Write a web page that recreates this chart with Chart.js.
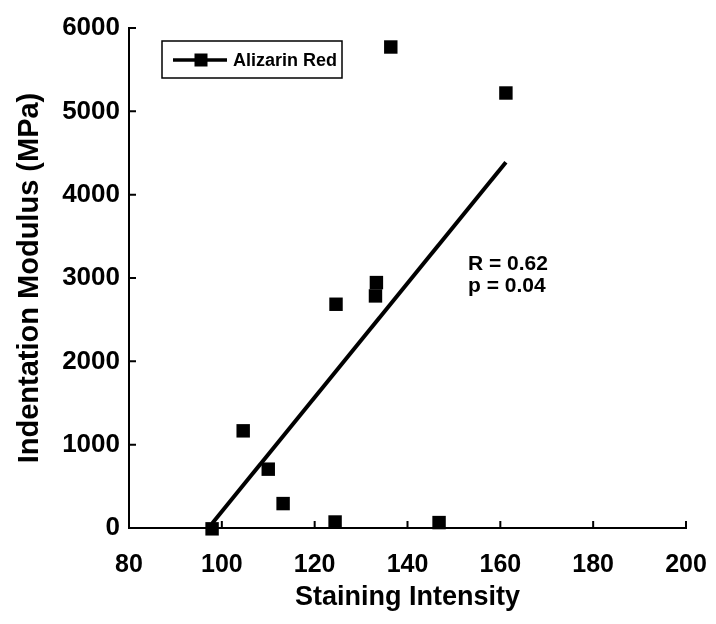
<!DOCTYPE html>
<html>
<head>
<meta charset="utf-8">
<script src="https://cdn.jsdelivr.net/npm/chart.js@4/dist/chart.umd.min.js"></script>
<style>
  body { margin: 0; background: #fff; }
  #wrap { width: 716px; height: 624px; }
</style>
</head>
<body>
<div id="wrap"><canvas id="chart" width="716" height="624"></canvas></div>
<script>
// Staining intensity vs indentation modulus
const seriesName = 'Alizarin Red';
const stainX = [97.9, 104.6, 110.0, 113.2, 124.4, 124.6, 133.1, 133.3, 136.4, 146.8, 161.2];
const modulusY = [-10, 1166, 706, 293, 72, 2685, 2785, 2945, 5772, 65, 5220];

// fitted line end points
const fitX = [97.9, 161.2];
const fitY = [53, 4388];

const xTicks = [80, 100, 120, 140, 160, 180, 200];
const yTicks = [0, 1000, 2000, 3000, 4000, 5000, 6000];
const statsText = ['R = 0.62', 'p = 0.04'];

const FONT = "'Liberation Sans', Arial, sans-serif";

const scatterPoints = stainX.map((x, i) => ({ x: x, y: modulusY[i] }));
const fitPoints = fitX.map((x, i) => ({ x: x, y: fitY[i] }));

// inward tick marks on both axes
const innerTicks = {
    id: 'innerTicks',
    afterDraw: function(chart) {
        const ctx = chart.ctx;
        const area = chart.chartArea;
        const xs = chart.scales.x;
        const ys = chart.scales.y;
        ctx.save();
        ctx.strokeStyle = '#000';
        ctx.lineWidth = 2;
        ctx.beginPath();
        xTicks.forEach(v => {
            const px = xs.getPixelForValue(v);
            ctx.moveTo(px, area.bottom);
            ctx.lineTo(px, area.bottom - 7);
        });
        yTicks.forEach(v => {
            const py = ys.getPixelForValue(v);
            ctx.moveTo(area.left, py);
            ctx.lineTo(area.left + 7, py);
        });
        ctx.stroke();
        ctx.restore();
    }
};

// boxed legend and stats text
const notes = {
    id: 'notes',
    afterDraw: function(chart) {
        const ctx = chart.ctx;
        ctx.save();
        // legend box
        ctx.strokeStyle = '#000';
        ctx.lineWidth = 1.5;
        ctx.strokeRect(162, 41, 180, 37);
        ctx.lineWidth = 3.5;
        ctx.beginPath();
        ctx.moveTo(173, 60);
        ctx.lineTo(227, 60);
        ctx.stroke();
        ctx.fillStyle = '#000';
        ctx.fillRect(194.5, 53.5, 13, 13);
        ctx.font = 'bold 18px ' + FONT;
        ctx.textBaseline = 'middle';
        ctx.textAlign = 'left';
        ctx.fillText(seriesName, 233, 61);

        // stats
        ctx.font = 'bold 21px ' + FONT;
        ctx.fillText(statsText[0], 468, 264);
        ctx.fillText(statsText[1], 468, 286);
        ctx.restore();
    }
};

const plainLabel = function(value) { return String(value); };

new Chart(document.getElementById('chart').getContext('2d'), {
    type: 'scatter',
    data: {
        datasets: [
            {
                label: seriesName,
                data: scatterPoints,
                pointStyle: 'rect',
                pointRadius: 9.5,
                pointHoverRadius: 9.5,
                pointBorderWidth: 0,
                backgroundColor: '#000',
                borderColor: '#000',
                clip: false
            },
            {
                type: 'line',
                label: 'fit',
                data: fitPoints,
                borderColor: '#000',
                borderWidth: 4,
                pointRadius: 0,
                fill: false,
                clip: false
            }
        ]
    },
    options: {
        responsive: false,
        animation: false,
        layout: {
            padding: { top: 28, right: 30, left: 0, bottom: 0 }
        },
        plugins: {
            legend: { display: false },
            tooltip: { enabled: false }
        },
        scales: {
            x: {
                type: 'linear',
                min: 80,
                max: 200,
                afterFit: function(scale) {
                    scale.height = 96;
                    scale.paddingLeft = 0;
                    scale.paddingRight = 0;
                },
                afterBuildTicks: function(scale) {
                    scale.ticks = xTicks.map(v => ({ value: v }));
                },
                grid: { display: false, drawTicks: false },
                border: { color: '#000', width: 2 },
                ticks: {
                    color: '#000',
                    padding: 22,
                    callback: plainLabel,
                    font: { family: FONT, size: 25, weight: 'bold' }
                },
                title: {
                    display: true,
                    text: 'Staining Intensity',
                    color: '#000',
                    padding: { top: 0, bottom: 10 },
                    font: { family: FONT, size: 27, weight: 'bold' }
                }
            },
            y: {
                type: 'linear',
                min: 0,
                max: 6000,
                afterFit: function(scale) {
                    scale.width = 129;
                    scale.paddingTop = 0;
                    scale.paddingBottom = 0;
                },
                afterBuildTicks: function(scale) {
                    scale.ticks = yTicks.map(v => ({ value: v }));
                },
                grid: { display: false, drawTicks: false },
                border: { color: '#000', width: 2 },
                ticks: {
                    color: '#000',
                    padding: 9,
                    callback: plainLabel,
                    font: { family: FONT, size: 26, weight: 'bold' }
                },
                title: {
                    display: true,
                    text: 'Indentation Modulus (MPa)',
                    color: '#000',
                    padding: { top: 13, bottom: 0 },
                    font: { family: FONT, size: 29, weight: 'bold' }
                }
            }
        }
    },
    plugins: [innerTicks, notes]
});
</script>
</body>
</html>
